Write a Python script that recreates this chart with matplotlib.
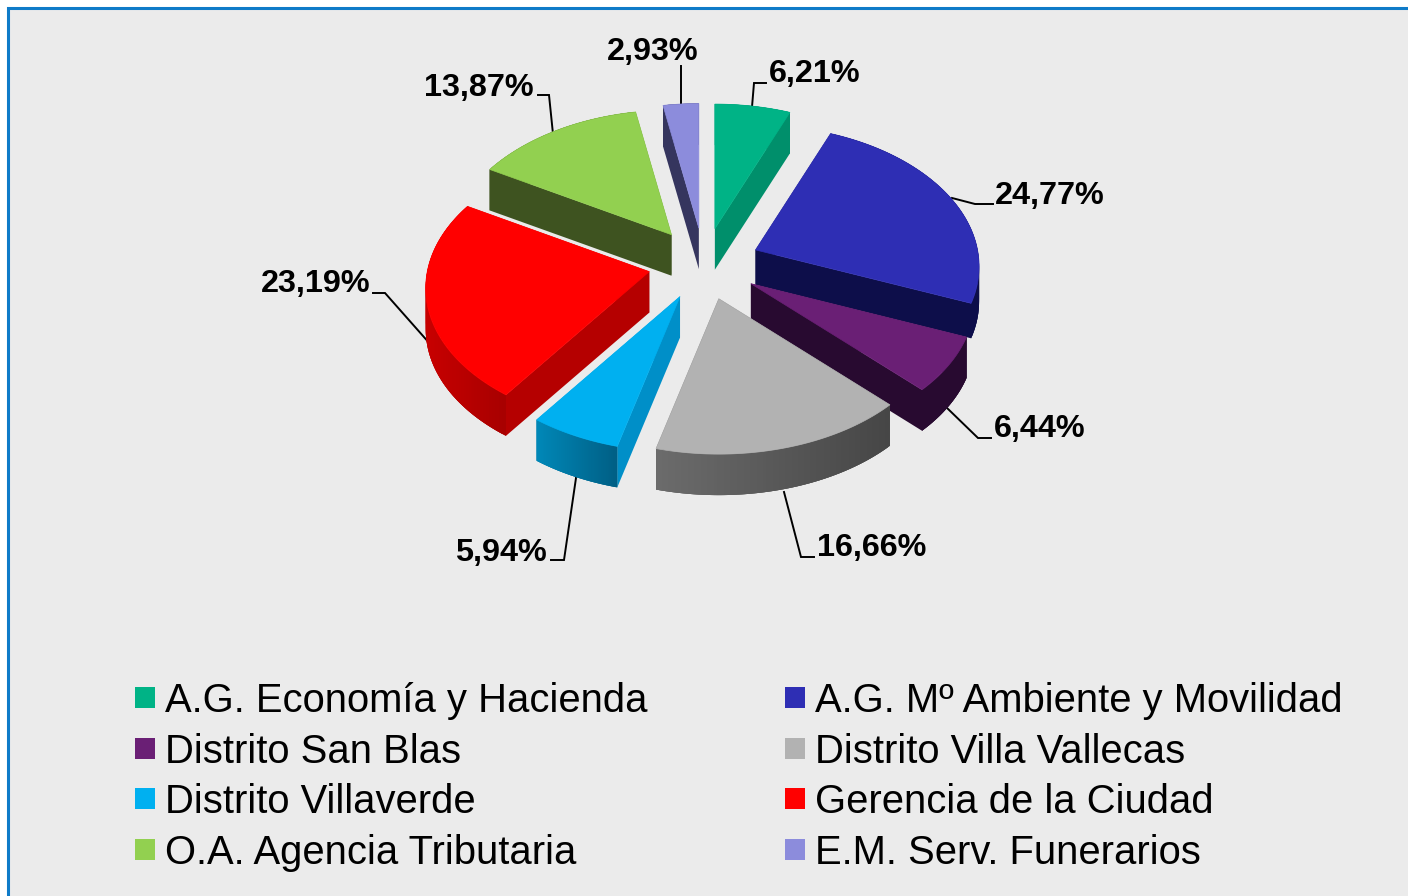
#! /usr/bin/env python3
import numpy as np
import matplotlib
matplotlib.use('Agg')
import matplotlib.pyplot as plt
from matplotlib.colors import to_rgb
from matplotlib.patches import Polygon, Rectangle

plt.rcParams['font.family'] = ['Liberation Sans', 'DejaVu Sans']

labels = ['A.G. Economía y Hacienda', 'A.G. Mº Ambiente y Movilidad', 'Distrito San Blas',
          'Distrito Villa Vallecas', 'Distrito Villaverde', 'Gerencia de la Ciudad',
          'O.A. Agencia Tributaria', 'E.M. Serv. Funerarios']
values = [6.21, 24.77, 6.44, 16.66, 5.94, 23.19, 13.87, 2.93]
value_text = ['6,21%', '24,77%', '6,44%', '16,66%', '5,94%', '23,19%', '13,87%', '2,93%']

top_colors = ['#00B386', '#2E2EB4', '#6A1F75', '#B2B2B2', '#00B0F0', '#FF0000', '#92D050', '#8C8CDC']
radial_colors = ['#008F6B', '#0D0E4A', '#280A30', '#484848', '#008FC8', '#B50000', '#3E5320', '#35355E']
arc_left = ['#008F6B', '#0D0E4A', '#280A30', '#6C6C6C', '#0088B8', '#C80000', '#3E5320', '#35355E']
arc_right = ['#008F6B', '#0D0E4A', '#280A30', '#464646', '#005F85', '#A80000', '#3E5320', '#35355E']

# leader line vertices and label anchors, in pixels
leaders = [[(752, 107), (754, 83), (766, 83)],
           [(952, 198), (975, 204), (993, 204)],
           [(946, 407), (978, 438), (991, 438)],
           [(784, 492), (801, 557), (814, 557)],
           [(576, 478), (564, 560), (551, 560)],
           [(431, 345), (385, 293), (373, 293)],
           [(553, 134), (549, 95), (538, 95)],
           [(681, 105), (681, 66)]]
label_pos = [(769, 74), (995, 196), (994, 429), (817, 548), (547, 553), (370, 284), (534, 88), (698, 52)]
label_ha = ['left', 'left', 'left', 'left', 'right', 'right', 'right', 'right']

draw_order = [7, 0, 6, 1, 2, 5, 4, 3]

cx, cy = 704, 264
rx, ry = 222, 140
expl_x, expl_y = 56, 36
persp_x, persp_y = 0.12, 0.11
depth = [41, 35, 41, 41, 41, 41, 41, 41]


def project(a):
    u, v = np.sin(a), -np.cos(a)
    return rx * u * (1 + persp_x * v), ry * v * (1 + persp_y * v)


def draw_slice(ax, i, a0, a1):
    mid = (a0 + a1) / 2
    ox = cx + expl_x * np.sin(mid)
    oy = cy - expl_y * np.cos(mid)
    d = depth[i]
    ang = np.linspace(a0, a1, 80)
    px, py = project(ang)
    px, py = px + ox, py + oy
    # radial side faces
    for k in (0, -1):
        ax.add_patch(Polygon([(ox, oy), (px[k], py[k]), (px[k], py[k] + d), (ox, oy + d)],
                             fc=radial_colors[i], ec='none', zorder=1))
    # outer band, shaded left to right; strips overlap so no seams show
    c0, c1 = np.array(to_rgb(arc_left[i])), np.array(to_rgb(arc_right[i]))
    x0, x1 = px.min(), px.max()
    ax.add_patch(Polygon(np.column_stack([np.r_[px, px[::-1]], np.r_[py, py[::-1] + d]]),
                         fc=(c0 + c1) / 2, ec='none', zorder=1))
    for k in range(len(ang) - 1):
        j = min(k + 2, len(ang) - 1)
        t = (px[k] - x0) / max(x1 - x0, 1)
        ax.add_patch(Polygon([(px[k], py[k]), (px[j], py[j]),
                              (px[j], py[j] + d), (px[k], py[k] + d)],
                             fc=c0 + (c1 - c0) * t, ec='none', zorder=1))
    # top face
    ax.add_patch(Polygon(np.column_stack([np.r_[ox, px], np.r_[oy, py]]),
                         fc=top_colors[i], ec=top_colors[i], lw=0.5, zorder=1))


def main():
    fig = plt.figure(figsize=(14.08, 8.96), dpi=100, facecolor='white')
    ax = fig.add_axes([0, 0, 1, 1])
    ax.set_xlim(0, 1408)
    ax.set_ylim(896, 0)
    ax.axis('off')

    ax.add_patch(Rectangle((8, 8), 1500, 1000, fc='#EBEBEB', ec='#0F7BC8', lw=2.2, zorder=0))

    edges = np.r_[0, np.cumsum(values)] / np.sum(values) * 2 * np.pi
    # leader lines sit behind the pie
    for pts in leaders:
        xs, ys = zip(*pts)
        ax.plot(xs, ys, color='black', lw=1.4, zorder=0.5, solid_joinstyle='miter')
    for i in draw_order:
        draw_slice(ax, i, edges[i], edges[i + 1])

    for i, (x, y) in enumerate(label_pos):
        ax.text(x, y, value_text[i], ha=label_ha[i], va='center', fontsize=23.3,
                fontweight='bold', color='black', zorder=3)

    rows = [697, 748, 798, 849]
    for i, name in enumerate(labels):
        col = i % 2
        y = rows[i // 2]
        ax.add_patch(Rectangle((135 + 650 * col, y - 10), 20, 21, fc=top_colors[i], ec='none', zorder=2))
        ax.text(165 + 650 * col, y, name, ha='left', va='center_baseline', fontsize=28.85,
                color='black', zorder=3)

    fig.savefig('out.png', dpi=100)


if __name__ == '__main__':
    main()
